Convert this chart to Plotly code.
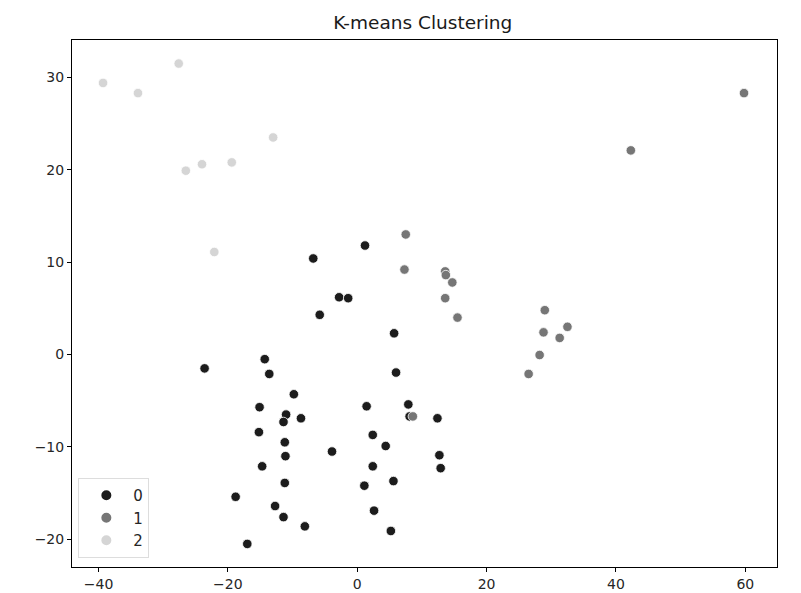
import plotly.graph_objects as go

# Cluster 0
c0_x = [-6.8, -2.8, -1.4, -5.8, -14.3, -23.6, -13.6, -9.8, -15.1, -11.0, -8.7, 1.2, 5.7, 6.0, 1.45,
        7.9, 12.4, -11.4, -15.2, -11.2, -3.9, -11.1, -14.7, -11.2, -18.8, -12.7, -11.4, -8.1, -17.0,
        8.1, 2.4, 4.4, 12.7, 2.4, 12.9, 5.6, 1.1, 2.6, 5.2]
c0_y = [10.4, 6.2, 6.1, 4.3, -0.5, -1.5, -2.1, -4.3, -5.7, -6.5, -6.9, 11.8, 2.3, -1.95, -5.6,
        -5.4, -6.9, -7.3, -8.4, -9.5, -10.5, -11.0, -12.1, -13.9, -15.4, -16.4, -17.6, -18.6, -20.5,
        -6.7, -8.7, -9.9, -10.9, -12.1, -12.3, -13.7, -14.2, -16.9, -19.1]
# Cluster 1
c1_x = [59.8, 42.3, 7.5, 7.3, 13.6, 13.7, 14.7, 13.6, 15.5, 29.0, 32.5, 28.8, 31.3, 28.2, 26.5, 8.6]
c1_y = [28.3, 22.1, 13.0, 9.2, 9.0, 8.6, 7.8, 6.1, 4.0, 4.8, 3.0, 2.4, 1.8, -0.05, -2.1, -6.7]
# Cluster 2
c2_x = [-39.3, -33.9, -27.6, -13.0, -26.5, -24.0, -19.4, -22.1]
c2_y = [29.4, 28.3, 31.5, 23.5, 19.9, 20.6, 20.8, 11.1]

labels = ["0", "1", "2"]
colors = ["#1c1c1c", "#767676", "#d5d5d5"]

fig = go.Figure()
for lab, xs, ys, col in zip(labels, [c0_x, c1_x, c2_x], [c0_y, c1_y, c2_y], colors):
    fig.add_trace(go.Scatter(
        x=xs, y=ys, mode="markers", name=lab,
        marker=dict(color=col, size=9.5, line=dict(color="white", width=0.8)),
    ))

axis_common = dict(
    showgrid=False, zeroline=False, showline=True, linecolor="black", linewidth=1,
    mirror=True, ticks="outside", ticklen=4, tickwidth=1, tickcolor="black",
    automargin=False,
    tickfont=dict(family="DejaVu Sans", size=14, color="#262626"),
)
fig.update_xaxes(range=[-44.1, 64.9], tickvals=[-40, -20, 0, 20, 40, 60],
                 ticktext=["\u221240", "\u221220", "0", "20", "40", "60"], **axis_common)
fig.update_yaxes(range=[-23.0, 34.05], tickvals=[-20, -10, 0, 10, 20, 30],
                 ticktext=["\u221220", "\u221210", "0", "10", "20", "30"], **axis_common)

fig.update_layout(
    width=793, height=585,
    margin=dict(l=64, r=24, t=32, b=26),
    paper_bgcolor="white", plot_bgcolor="white",
    title=dict(text="K-means Clustering", x=0.523, xanchor="center", y=0.976, yanchor="middle",
               font=dict(family="DejaVu Sans", size=18.5, color="#1a1a1a")),
    legend=dict(x=0.009, y=0.017, xanchor="left", yanchor="bottom",
                bgcolor="white", bordercolor="#dddddd", borderwidth=1,
                font=dict(family="DejaVu Sans", size=15, color="#262626"),
                itemsizing="constant", tracegroupgap=4, itemwidth=44),
    showlegend=True,
)

fig.write_html("out.html")
